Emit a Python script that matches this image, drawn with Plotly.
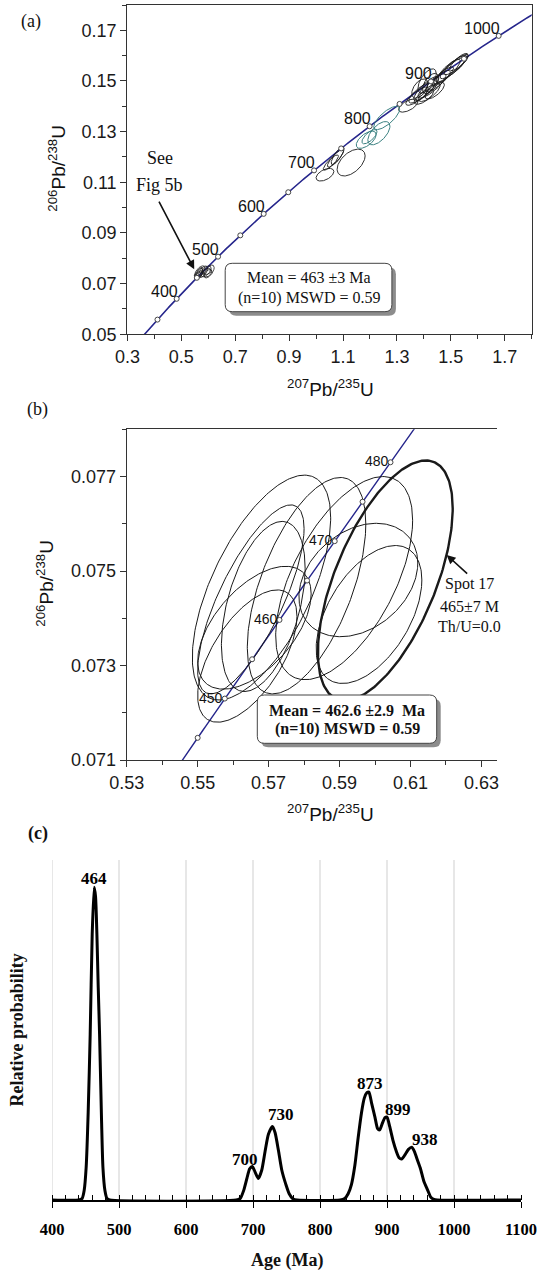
import numpy as np
import plotly.graph_objects as go

# ---------------- DATA ----------------
# Decay constants (per Ma) used for the concordia curve
LAMBDA_238 = 1.55125e-4
LAMBDA_235 = 9.8485e-4

# Panel (a) concordia age markers / labels
a_marker_ages = [350, 400, 450, 500, 550, 600, 650, 700, 750, 800, 850, 900, 950, 1000]
a_label_ages = [400, 500, 600, 700, 800, 900, 1000]
# Panel (b) concordia age markers / labels
b_marker_ages = [445, 450, 455, 460, 465, 470, 475, 480]
b_label_ages = [450, 460, 470, 480]

# Panel (b) error ellipses (207Pb/235U centre, 206Pb/238U centre, half-widths, correlation)
b_cx = [0.5680, 0.5685, 0.5660, 0.5640, 0.5650, 0.5807, 0.5913, 0.5953, 0.5983]
b_cy = [0.07465, 0.07425, 0.07380, 0.07320, 0.07440, 0.07469, 0.07485, 0.07481, 0.07408]
b_sx = [0.0195, 0.0118, 0.0160, 0.0140, 0.0150, 0.0167, 0.0193, 0.01675, 0.0149]
b_sy = [0.00238, 0.00180, 0.00130, 0.00140, 0.00200, 0.00229, 0.00215, 0.00120, 0.00146]
b_rho = [0.62, 0.45, 0.55, 0.60, 0.75, 0.57, 0.57, 0.30, 0.50]
# Spot 17 (bold ellipse)
spot17 = dict(cx=0.6029, cy=0.0748, sx=0.0190, sy=0.00254, rho=0.60)

# Panel (a) older zircons - black ellipses
a_cx = [1.033, 1.055, 1.072, 1.080, 1.130,
        1.342, 1.375, 1.392, 1.400, 1.408, 1.420, 1.430, 1.412, 1.440, 1.452,
        1.470, 1.490, 1.510, 1.520, 1.530, 1.500, 1.385, 1.425]
a_cy = [0.1130, 0.1178, 0.1195, 0.1205, 0.1178,
        0.1403, 0.1440, 0.1455, 0.1438, 0.1470, 0.1455, 0.1480, 0.1500, 0.1462, 0.1500,
        0.1518, 0.1540, 0.1555, 0.1565, 0.1575, 0.1545, 0.1470, 0.1490]
a_sx = [0.033, 0.028, 0.030, 0.024, 0.052,
        0.036, 0.042, 0.048, 0.036, 0.046, 0.040, 0.052, 0.034, 0.036, 0.046,
        0.040, 0.045, 0.050, 0.045, 0.034, 0.056, 0.030, 0.030]
a_sy = [0.0025, 0.0030, 0.0035, 0.0035, 0.0053,
        0.0026, 0.0036, 0.0042, 0.0030, 0.0048, 0.0036, 0.0048, 0.0048, 0.0033, 0.0042,
        0.0038, 0.0046, 0.0046, 0.0040, 0.0034, 0.0050, 0.0038, 0.0040]
a_rho = [0.5, 0.85, 0.85, 0.8, 0.5,
         0.6, 0.8, 0.8, 0.7, 0.85, 0.75, 0.85, 0.6, 0.7, 0.85,
         0.85, 0.85, 0.85, 0.85, 0.8, 0.9, 0.5, 0.55]
# Panel (a) teal ellipses
t_cx = [1.186, 1.198, 1.233, 1.262]
t_cy = [0.1268, 0.1280, 0.1294, 0.1354]
t_sx = [0.037, 0.028, 0.041, 0.048]
t_sy = [0.0034, 0.0028, 0.0046, 0.0046]
t_rho = [0.6, 0.7, 0.6, 0.75]

# Panel (c) relative probability curve
pdp_age = [400, 440, 445, 448, 451, 454, 457, 460, 463, 465, 467, 469, 471, 474, 476, 479, 482, 486,
           675, 681, 686, 691, 695, 699, 703, 708, 713, 718, 723, 729, 733, 738, 743, 749, 754, 760, 766,
           830, 837, 842, 847, 852, 857, 862, 866, 870, 873, 877, 882, 886, 889, 893, 897, 900, 904,
           909, 914, 918, 922, 927, 932, 937, 941, 945, 950, 955, 961, 965, 970, 975, 1100]
pdp_prob = [0, 0, 0.5, 3, 10.5, 28, 53, 85, 100, 97, 85, 68, 53, 25, 10.5, 3, 0.5, 0,
            0, 0.5, 3, 7, 10, 10.7, 9, 6.9, 9.5, 15.5, 21, 23.5, 21.5, 15.8, 9.5, 5, 2, 0.3, 0,
            0, 0.5, 2, 5, 11, 20, 28, 32.5, 34.3, 34.5, 31, 26.5, 22.8, 22.4, 24.5, 26.3, 26.5, 23.5,
            19, 15.5, 13.5, 13.1, 14.5, 16.2, 16.9, 15.5, 13, 10, 6, 3, 1, 0.2, 0, 0]
peak_labels = ["464", "700", "730", "873", "899", "938"]
peak_label_x = [463.4, 688.7, 741.8, 874.7, 917, 957]
peak_label_y = [102.9, 12.8, 27.2, 37.3, 28.8, 19.2]

# ---------------- HELPERS ----------------
W, H = 539, 1274


def fx(px):
    return px / W


def fy(py):
    return 1 - py / H


def concordia(ages):
    t = np.asarray(ages, dtype=float)
    return np.exp(LAMBDA_235 * t) - 1, np.exp(LAMBDA_238 * t) - 1


def ellipses(cx, cy, sx, sy, rho, n=140):
    xs, ys = [], []
    th = np.linspace(0, 2 * np.pi, n)
    for c1, c2, s1, s2, r in zip(cx, cy, sx, sy, rho):
        x = c1 + s1 * np.cos(th)
        y = c2 + s2 * (r * np.cos(th) + np.sqrt(1 - r * r) * np.sin(th))
        xs += list(x) + [None]
        ys += list(y) + [None]
    return xs, ys


def rrect(x0, y0, x1, y1, r):
    pts = [("M", (x0 + r, y0)), ("L", (x1 - r, y0)), ("Q", (x1, y0), (x1, y0 + r)),
           ("L", (x1, y1 - r)), ("Q", (x1, y1), (x1 - r, y1)), ("L", (x0 + r, y1)),
           ("Q", (x0, y1), (x0, y1 - r)), ("L", (x0, y0 + r)), ("Q", (x0, y0), (x0 + r, y0))]
    s = ""
    for p in pts:
        coords = " ".join(f"{fx(a):.5f},{fy(b):.5f}" for a, b in p[1:])
        s += f"{p[0]} {coords} "
    return s + "Z"


NAVY = "rgb(38,38,140)"
INK = "#1a1a1a"
TEAL = "rgb(60,130,130)"
SANS = "Liberation Sans, Arial, sans-serif"
SERIF = "Liberation Serif, Times New Roman, serif"

fig = go.Figure()

# ---------------- PANEL (a) ----------------
ca_x, ca_y = concordia(np.arange(300, 1101, 2))
fig.add_trace(go.Scatter(x=ca_x, y=ca_y, mode="lines", line=dict(color=NAVY, width=1.6),
                         xaxis="x", yaxis="y", hoverinfo="skip"))
ex, ey = ellipses(b_cx + [spot17["cx"]], b_cy + [spot17["cy"]], b_sx + [spot17["sx"]],
                  b_sy + [spot17["sy"]], b_rho + [spot17["rho"]])
fig.add_trace(go.Scatter(x=ex, y=ey, mode="lines", line=dict(color=INK, width=0.8),
                         xaxis="x", yaxis="y", hoverinfo="skip"))
ex, ey = ellipses(a_cx, a_cy, a_sx, a_sy, a_rho)
fig.add_trace(go.Scatter(x=ex, y=ey, mode="lines", line=dict(color=INK, width=0.9),
                         xaxis="x", yaxis="y", hoverinfo="skip"))
ex, ey = ellipses(t_cx, t_cy, t_sx, t_sy, t_rho)
fig.add_trace(go.Scatter(x=ex, y=ey, mode="lines", line=dict(color=TEAL, width=1),
                         xaxis="x", yaxis="y", hoverinfo="skip"))
ma_x, ma_y = concordia(a_marker_ages)
fig.add_trace(go.Scatter(x=ma_x, y=ma_y, mode="markers",
                         marker=dict(size=5, color="white", line=dict(color="#444", width=1)),
                         xaxis="x", yaxis="y", hoverinfo="skip"))

# ---------------- PANEL (b) ----------------
cb_x, cb_y = concordia(np.arange(430, 500, 0.5))
fig.add_trace(go.Scatter(x=cb_x, y=cb_y, mode="lines", line=dict(color=NAVY, width=1.4),
                         xaxis="x2", yaxis="y2", hoverinfo="skip"))
ex, ey = ellipses(b_cx, b_cy, b_sx, b_sy, b_rho, n=240)
fig.add_trace(go.Scatter(x=ex, y=ey, mode="lines", line=dict(color=INK, width=1),
                         xaxis="x2", yaxis="y2", hoverinfo="skip"))
ex, ey = ellipses([spot17["cx"]], [spot17["cy"]], [spot17["sx"]], [spot17["sy"]], [spot17["rho"]], n=240)
fig.add_trace(go.Scatter(x=ex, y=ey, mode="lines", line=dict(color=INK, width=2.4),
                         xaxis="x2", yaxis="y2", hoverinfo="skip"))
mb_x, mb_y = concordia(b_marker_ages)
fig.add_trace(go.Scatter(x=mb_x, y=mb_y, mode="markers",
                         marker=dict(size=5, color="white", line=dict(color="#444", width=1)),
                         xaxis="x2", yaxis="y2", hoverinfo="skip"))

# ---------------- PANEL (c) ----------------
fig.add_trace(go.Scatter(x=pdp_age, y=pdp_prob, mode="lines",
                         line=dict(color="black", width=3, shape="spline", smoothing=0.6),
                         xaxis="x3", yaxis="y3", hoverinfo="skip"))

# ---------------- AXES ----------------
line_col = "#333"
base = dict(showgrid=False, zeroline=False, showline=True, linecolor=line_col, linewidth=1.3,
            ticks="outside", ticklen=6, tickwidth=1.2, tickcolor=line_col, automargin=False,
            tickfont=dict(family=SANS, size=18, color="#1a1a1a"), tickmode="linear")

fig.update_layout(
    xaxis=dict(base, domain=[fx(127.4), fx(531.7)], anchor="y", range=[0.3, 1.8],
               tick0=0.3, dtick=0.2, tickformat=".1f", mirror=True,
               minor=dict(tick0=0.3, dtick=0.1, ticks="outside", ticklen=4, tickcolor=line_col)),
    yaxis=dict(base, domain=[fy(334.3), fy(5)], anchor="x", range=[0.05, 0.18],
               tick0=0.05, dtick=0.02, tickformat=".2f", mirror=True,
               minor=dict(tick0=0.05, dtick=0.01, ticks="outside", ticklen=4, tickcolor=line_col)),
    xaxis2=dict(base, domain=[fx(126.7), fx(496.7)], anchor="y2", range=[0.53, 0.6343],
                tick0=0.53, dtick=0.02, tickformat=".2f", mirror=True,
                minor=dict(tick0=0.53, dtick=0.01, ticks="outside", ticklen=4, tickcolor=line_col)),
    yaxis2=dict(base, domain=[fy(760), fy(429.3)], anchor="x2", range=[0.071, 0.078],
                tick0=0.071, dtick=0.002, tickformat=".3f",
                minor=dict(tick0=0.071, dtick=0.001, ticks="outside", ticklen=4, tickcolor=line_col)),
    xaxis3=dict(domain=[fx(52), fx(521)], anchor="y3", range=[400, 1100], showgrid=False,
                zeroline=False, showline=True, linecolor="black", linewidth=1.6, automargin=False,
                tickmode="linear", tick0=400, dtick=100, ticks="outside", ticklen=6,
                tickwidth=1.3, tickcolor="black", ticklabelstandoff=7,
                tickfont=dict(family=SERIF, size=16.5, color="black", weight="bold"),
                minor=dict(tick0=400, dtick=20, ticks="inside", ticklen=5, tickcolor="black")),
    yaxis3=dict(domain=[fy(1200), fy(860)], anchor="x3", range=[0, 108.7], visible=False,
                automargin=False),
    width=W, height=H, margin=dict(l=0, r=0, t=0, b=0, autoexpand=False),
    paper_bgcolor="white", plot_bgcolor="white", showlegend=False,
)

# ---------------- SHAPES ----------------
shapes = []
for g in range(400, 1001, 100):
    shapes.append(dict(type="line", xref="x3", yref="y3 domain", x0=g, x1=g, y0=0, y1=1,
                       line=dict(color="#cfcfcf", width=1), layer="below"))
for (x0, y0, x1, y1) in [(225.2, 263.3, 391.9, 311.7), (257.3, 695.0, 436.7, 743.3)]:
    shapes.append(dict(type="path", xref="paper", yref="paper",
                       path=rrect(x0 + 4, y0 + 4, x1 + 4, y1 + 4, 7),
                       fillcolor="rgb(140,140,140)", line=dict(width=0)))
    shapes.append(dict(type="path", xref="paper", yref="paper",
                       path=rrect(x0, y0, x1, y1, 7),
                       fillcolor="white", line=dict(color="#444", width=1)))
fig.update_layout(shapes=shapes)

# ---------------- ANNOTATIONS ----------------
anns = []


def txt(px, py, text, size, family=SANS, bold=False, xanchor="center", yanchor="middle", angle=0):
    anns.append(dict(xref="paper", yref="paper", x=fx(px), y=fy(py), text=text, showarrow=False,
                     xanchor=xanchor, yanchor=yanchor, textangle=angle,
                     font=dict(family=family, size=size, color="#111",
                               weight="bold" if bold else "normal")))


txt(31, 21.7, "(a)", 18, SERIF)
txt(37.8, 409.3, "(b)", 18, SERIF)
txt(37.8, 833.3, "(c)", 18, SERIF, bold=True)
txt(56.7, 168, "<sup>206</sup>Pb/<sup>238</sup>U", 19, angle=-90)
txt(330, 388, "<sup>207</sup>Pb/<sup>235</sup>U", 19)
txt(44.7, 583, "<sup>206</sup>Pb/<sup>238</sup>U", 19, angle=-90)
txt(330, 813, "<sup>207</sup>Pb/<sup>235</sup>U", 19)
txt(159.8, 158.3, "See", 18, SERIF)
txt(159.8, 185, "Fig 5b", 18, SERIF)
txt(16.5, 1030, "Relative probability", 18, SERIF, bold=True, angle=-90)
txt(287, 1260, "Age (Ma)", 18, SERIF, bold=True)
txt(469.2, 584, "Spot 17", 16, SERIF)
txt(469.2, 606.7, "465±7 M", 16, SERIF)
txt(469.2, 626.7, "Th/U=0.0", 16, SERIF)
txt(308.5, 277.3, "Mean = 463 ±3 Ma", 16, SERIF)
txt(308.5, 298.3, "(n=10) MSWD = 0.59", 16, SERIF)
txt(347, 710, "Mean = 462.6 ±2.9 \u00a0Ma", 16, SERIF, bold=True)
txt(347, 729.3, "(n=10) MSWD = 0.59", 16, SERIF, bold=True)

la_x, la_y = concordia(a_label_ages)
for age, x, y in zip(a_label_ages, la_x, la_y):
    anns.append(dict(xref="x", yref="y", x=x, y=y, text=str(age), showarrow=False,
                     xanchor="right", yanchor="bottom", xshift=3, yshift=-3,
                     font=dict(family=SANS, size=16, color="#111")))
lb_x, lb_y = concordia(b_label_ages)
for age, x, y in zip(b_label_ages, lb_x, lb_y):
    anns.append(dict(xref="x2", yref="y2", x=x, y=y, text=str(age), showarrow=False,
                     xanchor="right", yanchor="middle", xshift=0, yshift=1,
                     font=dict(family=SANS, size=14, color="#111")))
for t, x, y in zip(peak_labels, peak_label_x, peak_label_y):
    anns.append(dict(xref="x3", yref="y3", x=x, y=y, text=t, showarrow=False,
                     xanchor="center", yanchor="middle",
                     font=dict(family=SERIF, size=17, color="black", weight="bold")))
anns.append(dict(xref="x", yref="y", x=0.5479, y=0.0757, ax=-36, ay=-69, text="",
                 showarrow=True, arrowhead=2, arrowsize=1.1, arrowwidth=1.6, arrowcolor="#111"))
anns.append(dict(xref="x2", yref="y2", x=0.6202, y=0.07534, ax=22, ay=20, text="",
                 showarrow=True, arrowhead=2, arrowsize=1.1, arrowwidth=1.6, arrowcolor="#111"))

fig.update_layout(annotations=anns)
fig.write_html("out.html", config={"displayModeBar": False},
               post_script="document.body.style.margin='0';document.body.style.overflow='hidden';")
